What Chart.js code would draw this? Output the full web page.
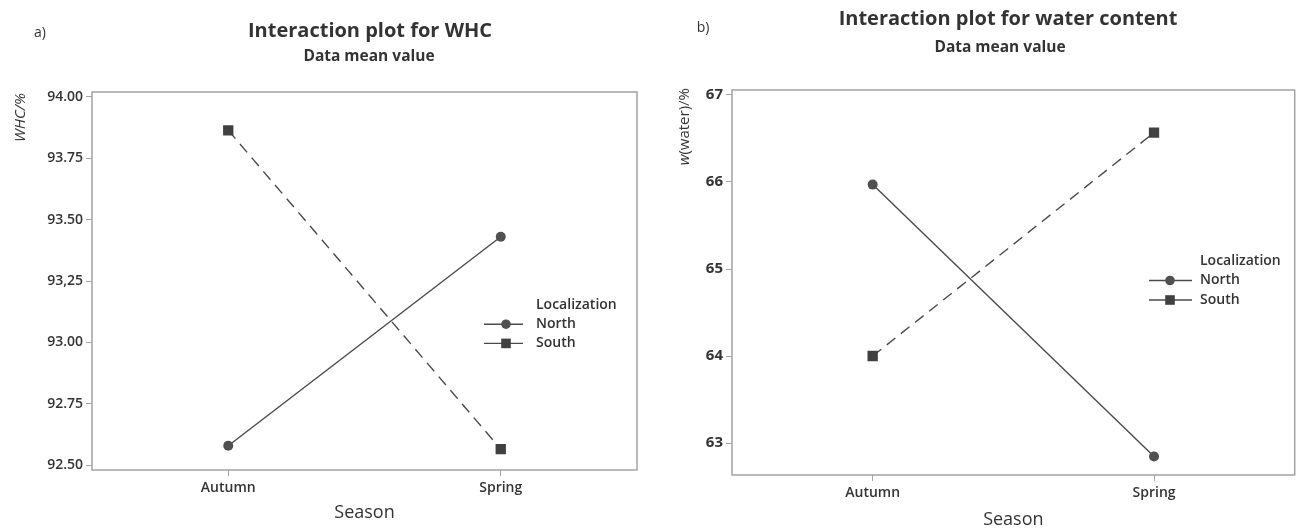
<!DOCTYPE html>
<html>
<head>
<meta charset="utf-8">
<script src="https://cdn.jsdelivr.net/npm/chart.js@4.4.1/dist/chart.umd.min.js"></script>
<style>
  body { margin: 0; background: #fff; font-family: "Open Sans", sans-serif; color: #333; }
  #wrap { position: relative; width: 1302px; height: 529px; overflow: hidden; }
  canvas { position: absolute; top: 0; }
  .txt { position: absolute; transform: translate(-50%, -50%); white-space: nowrap; line-height: 1; }
  .title { font-weight: 700; font-size: 20px; }
  .sub { font-weight: 700; font-size: 15.5px; }
  .tag { font-size: 14px; }
</style>
</head>
<body>
<div id="wrap">
  <canvas id="whc" width="651" height="529" style="left:0"></canvas>
  <canvas id="water" width="651" height="529" style="left:651px"></canvas>
  <div class="txt tag" style="left:40px; top:32px">a)</div>
  <div class="txt title" style="left:370px; top:30px">Interaction plot for WHC</div>
  <div class="txt sub" style="left:369px; top:56px">Data mean value</div>
  <div class="txt tag" style="left:703px; top:27px">b)</div>
  <div class="txt title" style="left:1008px; top:18px">Interaction plot for water content</div>
  <div class="txt sub" style="left:1000px; top:47px">Data mean value</div>
</div>
<script>
const seasons = ['Autumn', 'Spring'];
const groups = ['North', 'South'];

// a) WHC means
const whcNorth = [92.579, 93.43];
const whcSouth = [93.864, 92.565];
const whcTicks = [92.5, 92.75, 93, 93.25, 93.5, 93.75, 94];
const whcTickLabels = ['92.50', '92.75', '93.00', '93,25', '93.50', '93.75', '94.00'];

// b) water content means
const waterNorth = [65.97, 62.846];
const waterSouth = [64.0, 66.567];
const waterTicks = [63, 64, 65, 66, 67];
const waterTickLabels = ['63', '64', '65', '66', '67'];

const ink = '#333';
const lineCol = '#4a4a4a';
const circleCol = '#505050';
const squareCol = '#404040';
const frameCol = '#a3a3a3';

// frame round the plot area
const framePlugin = {
  id: 'frame',
  afterDraw(chart) {
    const a = chart.chartArea, ctx = chart.ctx;
    ctx.save();
    ctx.strokeStyle = frameCol;
    ctx.lineWidth = 1.5;
    ctx.strokeRect(a.left, a.top, a.right - a.left, a.bottom - a.top);
    ctx.restore();
  }
};

function drawMarker(ctx, style, x, y) {
  ctx.beginPath();
  if (style === 'circle') {
    ctx.fillStyle = circleCol;
    ctx.arc(x, y, 4.8, 0, Math.PI * 2);
  } else {
    ctx.fillStyle = squareCol;
    ctx.rect(x - 4.8, y - 4.8, 9.6, 9.6);
  }
  ctx.fill();
}

// Minitab style legend: header, then line + marker + name
const legendPlugin = {
  id: 'mtLegend',
  afterDraw(chart, args, o) {
    const ctx = chart.ctx;
    ctx.save();
    ctx.font = '600 14px "Open Sans"';
    ctx.fillStyle = ink;
    ctx.textBaseline = 'middle';
    ctx.fillText('Localization', o.textX, o.y);
    chart.data.datasets.forEach((ds, i) => {
      const y = o.y + o.gap * (i + 1);
      ctx.strokeStyle = lineCol;
      ctx.lineWidth = 1.4;
      ctx.setLineDash([]);
      ctx.beginPath();
      ctx.moveTo(o.x0, y);
      ctx.lineTo(o.x1, y);
      ctx.stroke();
      drawMarker(ctx, ds.pointStyle, o.mx, y);
      ctx.fillStyle = ink;
      ctx.fillText(ds.label, o.textX, y);
    });
    ctx.restore();
  }
};

// rotated y title, parts may be italic, text ends at the plot top
const yTitlePlugin = {
  id: 'yTitle',
  afterDraw(chart, args, o) {
    const ctx = chart.ctx;
    ctx.save();
    let total = 0;
    o.parts.forEach(p => {
      ctx.font = (p.italic ? 'italic ' : '') + '15px "Open Sans"';
      p.w = ctx.measureText(p.text).width;
      total += p.w;
    });
    ctx.translate(o.x, o.top + total);
    ctx.rotate(-Math.PI / 2);
    ctx.fillStyle = ink;
    ctx.textBaseline = 'middle';
    let cx = 0;
    o.parts.forEach(p => {
      ctx.font = (p.italic ? 'italic ' : '') + '15px "Open Sans"';
      ctx.fillText(p.text, cx, 0);
      cx += p.w;
    });
    ctx.restore();
  }
};

function makeChart(id, c) {
  return new Chart(document.getElementById(id), {
    type: 'line',
    data: {
      labels: seasons,
      datasets: [{
        label: groups[0],
        data: c.north,
        borderColor: lineCol,
        borderWidth: 1.4,
        pointStyle: 'circle',
        pointRadius: 5,
        pointBackgroundColor: circleCol,
        pointBorderWidth: 0,
        tension: 0
      }, {
        label: groups[1],
        data: c.south,
        borderColor: lineCol,
        borderWidth: 1.4,
        borderDash: [11, 7],
        pointStyle: 'rect',
        pointRadius: 7.3,
        pointBackgroundColor: squareCol,
        pointBorderWidth: 0,
        tension: 0
      }]
    },
    plugins: [framePlugin, legendPlugin, yTitlePlugin],
    options: {
      responsive: false,
      animation: false,
      layout: { padding: c.pad },
      scales: {
        x: {
          type: 'category',
          offset: true,
          afterFit: s => { s.height = c.xHeight; },
          grid: { drawOnChartArea: false, drawTicks: true, tickLength: 6, tickColor: frameCol, offset: false },
          border: { display: false },
          ticks: { color: ink, font: { family: 'Open Sans', size: 14, weight: '600' }, padding: 4 },
          title: {
            display: true, text: 'Season', color: ink,
            font: { family: 'Open Sans', size: 18, lineHeight: 1 },
            padding: { top: 0, bottom: 0 }
          }
        },
        y: {
          min: c.min, max: c.max,
          afterFit: s => { s.width = c.yWidth; },
          afterBuildTicks: s => { s.ticks = c.ticks.map(v => ({ value: v })); },
          grid: { drawOnChartArea: false, drawTicks: true, tickLength: 6, tickColor: frameCol },
          border: { display: false },
          ticks: {
            color: ink, padding: 3,
            font: { family: 'Open Sans', size: c.tickSize, weight: c.tickWeight },
            callback: v => c.tickLabels[c.ticks.indexOf(v)]
          }
        }
      },
      plugins: {
        legend: { display: false },
        tooltip: { enabled: false },
        mtLegend: c.legend,
        yTitle: c.yTitle
      }
    }
  });
}

makeChart('whc', {
  north: whcNorth, south: whcSouth,
  min: 92.48, max: 94.02, ticks: whcTicks, tickLabels: whcTickLabels,
  tickSize: 14, tickWeight: '600',
  pad: { left: 0, top: 92, right: 14, bottom: 7 },
  yWidth: 92, xHeight: 52,
  legend: { textX: 536, y: 305, gap: 19.2, x0: 484, x1: 523, mx: 506 },
  yTitle: { x: 21, top: 93, parts: [{ text: 'WHC/%', italic: true }] }
});

makeChart('water', {
  north: waterNorth, south: waterSouth,
  min: 62.633, max: 67.057, ticks: waterTicks, tickLabels: waterTickLabels,
  tickSize: 15, tickWeight: '700',
  pad: { left: 0, top: 90, right: 3, bottom: 0 },
  yWidth: 81, xHeight: 54,
  legend: { textX: 549, y: 261, gap: 19.5, x0: 498, x1: 541, mx: 519 },
  yTitle: { x: 34, top: 88, parts: [{ text: 'w', italic: true }, { text: '(water)/%', italic: false }] }
});
</script>
</body>
</html>
